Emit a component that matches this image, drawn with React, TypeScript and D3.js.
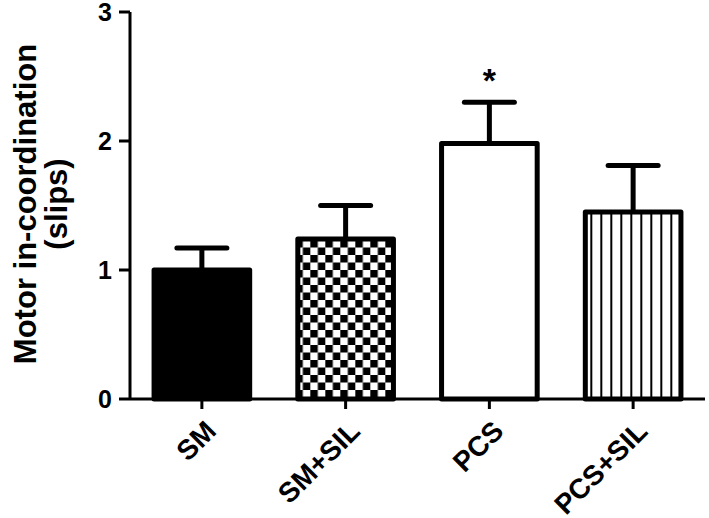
import * as d3 from 'd3';

const categories = ['SM', 'SM+SIL', 'PCS', 'PCS+SIL'];
const means = [1.0, 1.24, 1.98, 1.45];
const errors = [0.17, 0.26, 0.32, 0.36];
const fills = ['solid', 'checker', 'none', 'stripes'];
const significant = [false, false, true, false];
const yTicks = [0, 1, 2, 3];

const W = 709;
const H = 518;
const left = 130;
const right = 705;
const top = 12;
const bottom = 399;

const App = () => {
  const x = d3.scaleBand<string>().domain(categories).range([left, right]).paddingInner(0.3).paddingOuter(0.15);
  const y = d3.scaleLinear().domain([0, 3]).range([bottom, top]);
  const bw = x.bandwidth();
  const font = 'Arial, "Liberation Sans", sans-serif';

  const fillFor = (f: string) =>
    f === 'solid' ? '#000' : f === 'checker' ? 'url(#checker)' : f === 'stripes' ? 'url(#stripes)' : '#fff';

  return (
    <div style={{ position: 'absolute', left: 0, top: 0 }}>
      <svg width={W} height={H} style={{ display: 'block', background: '#fff' }}>
        <defs>
          <pattern id="checker" patternUnits="userSpaceOnUse" width={15} height={15} x={x('SM+SIL')} y={0}>
            <rect width={15} height={15} fill="#fff" />
            <rect width={7.5} height={7.5} fill="#000" />
            <rect x={7.5} y={7.5} width={7.5} height={7.5} fill="#000" />
          </pattern>
          <pattern id="stripes" patternUnits="userSpaceOnUse" width={10} height={10} x={(x('PCS+SIL') as number) + 2.5} y={0}>
            <rect width={10} height={10} fill="#fff" />
            <rect x={5} width={2} height={10} fill="#000" />
          </pattern>
        </defs>

        {/* bars */}
        {categories.map((c, i) => {
          const x0 = x(c) as number;
          const cx = x0 + bw / 2;
          const yTop = y(means[i]);
          const yErr = y(means[i] + errors[i]);
          return (
            <g key={c}>
              <line x1={cx} x2={cx} y1={yTop} y2={yErr} stroke="#000" strokeWidth={5} />
              <line x1={cx - 25} x2={cx + 25} y1={yErr} y2={yErr} stroke="#000" strokeWidth={5} strokeLinecap="round" />
              <rect x={x0 + 2.5} y={yTop} width={bw - 5} height={bottom - yTop}
                fill={fillFor(fills[i])} stroke="#000" strokeWidth={5} strokeLinejoin="round" />
              {significant[i] && (
                <text x={cx} y={yErr - 10} textAnchor="middle" fontFamily={font} fontWeight="bold" fontSize={34}>*</text>
              )}
            </g>
          );
        })}

        {/* y axis */}
        <line x1={left} x2={left} y1={top} y2={bottom} stroke="#000" strokeWidth={3} />
        {yTicks.map(t => (
          <g key={t}>
            <line x1={left - 11} x2={left} y1={y(t)} y2={y(t)} stroke="#000" strokeWidth={3} />
            <text x={left - 18} y={y(t)} dy="0.36em" textAnchor="end" fontFamily={font} fontWeight="bold" fontSize={25}>{t}</text>
          </g>
        ))}

        {/* x axis */}
        <line x1={left} x2={right} y1={bottom} y2={bottom} stroke="#000" strokeWidth={3} />
        {categories.map(c => {
          const cx = (x(c) as number) + bw / 2;
          return (
            <g key={c}>
              <line x1={cx} x2={cx} y1={bottom} y2={bottom + 10} stroke="#000" strokeWidth={3} />
              <text transform={`translate(${cx + 2},${bottom + 20}) rotate(-45)`} textAnchor="end" dy="0.7em"
                fontFamily={font} fontWeight="bold" fontSize={28}>{c}</text>
            </g>
          );
        })}

        {/* y label */}
        <text transform={`translate(25,204) rotate(-90)`} textAnchor="middle" dy="0.36em"
          fontFamily={font} fontWeight="bold" fontSize={31}>Motor in-coordination</text>
        <text transform={`translate(56,204) rotate(-90)`} textAnchor="middle" dy="0.36em"
          fontFamily={font} fontWeight="bold" fontSize={31}>(slips)</text>
      </svg>
    </div>
  );
};

export default App;
